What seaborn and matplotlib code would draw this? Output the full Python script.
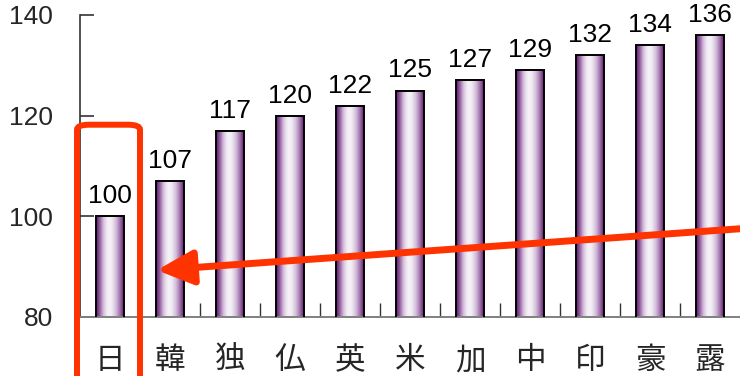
import numpy as np
import pandas as pd
import matplotlib
matplotlib.use("Agg")
import matplotlib.pyplot as plt
import seaborn as sns
from matplotlib.colors import LinearSegmentedColormap
from matplotlib.patches import FancyBboxPatch, FancyArrowPatch

countries = ["日", "韓", "独", "仏", "英", "米", "加", "中", "印", "豪", "露"]
values = [100, 107, 117, 120, 122, 125, 127, 129, 132, 134, 136]
y_ticks = [80, 100, 120, 140]

sns.set_theme(style="white")
plt.rcParams["font.family"] = ["Liberation Sans", "Noto Sans CJK JP", "DejaVu Sans"]

df = pd.DataFrame({"country": countries, "value": values})

fig = plt.figure(figsize=(7.4, 3.76), dpi=100)
ax = fig.add_axes([80 / 740, 1 - 317 / 376, 660 / 740, 302 / 376])

sns.barplot(data=df, x="country", y="value", ax=ax, width=0.46,
            color="white", edgecolor="black", linewidth=1.4, zorder=3)

y_min, y_max = y_ticks[0], y_ticks[-1]
ax.set_ylim(y_min, y_max)
ax.set_xlim(-0.5, len(countries) - 0.5)

# cylinder-like horizontal gradient inside each bar
grad_cmap = LinearSegmentedColormap.from_list("cyl", [
    (0.00, "#5a1468"), (0.12, "#8e559c"), (0.28, "#d9c6de"),
    (0.42, "#f6f2f7"), (0.55, "#f3eef5"), (0.72, "#d2bdd8"),
    (0.88, "#9a66a6"), (1.00, "#5f1a6d")])
grad = np.linspace(0, 1, 256).reshape(1, -1)
for patch, val in zip(ax.patches, values):
    x0, w = patch.get_x(), patch.get_width()
    top = patch.get_y() + patch.get_height()
    ax.imshow(grad, cmap=grad_cmap, aspect="auto",
              extent=[x0, x0 + w, y_min, top], zorder=2.5,
              interpolation="bicubic")
    patch.set_facecolor("none")
    ax.text(x0 + w / 2, top + 2.6, f"{val}",
            ha="center", va="baseline", fontsize=19, color="black", zorder=5,
            clip_on=False)
ax.set_xlim(-0.5, len(countries) - 0.5)
ax.set_ylim(y_min, y_max)

# axes styling
ax.set_xlabel("")
ax.set_ylabel("")
ax.set_yticks(y_ticks)
ax.set_yticklabels([str(v) for v in y_ticks], fontsize=19)
ax.tick_params(axis="y", direction="in", length=10, width=1.2,
               color="#333333", pad=19.5, left=True)
ax.set_xticks(range(len(countries)))
ax.set_xticklabels(countries, fontsize=22)
ax.tick_params(axis="x", which="major", length=0, pad=21)
ax.set_xticks(np.arange(0.5, len(countries) - 0.5, 1), minor=True)
ax.tick_params(axis="x", which="minor", direction="in", length=10,
               width=1.0, color="#333333", bottom=True)
for side in ("top", "right"):
    ax.spines[side].set_visible(False)
ax.spines["left"].set_color("#333333")
ax.spines["left"].set_linewidth(1.2)
ax.spines["bottom"].set_color("#808080")
ax.spines["bottom"].set_linewidth(1.4)
ax.grid(False)

red = "#ff3300"
# highlight box around Japan
box = FancyBboxPatch((-0.55, 60), 1.05, 58.2,
                     boxstyle="round,pad=0,rounding_size=0.2",
                     transform=ax.transData, fill=False, edgecolor=red,
                     linewidth=4.3, clip_on=False, zorder=6,
                     mutation_aspect=5)
ax.add_patch(box)

# arrow pointing back toward Japan
arrow = FancyArrowPatch((10.7, 97.7), (0.78, 89.3),
                        arrowstyle="-|>,head_length=22,head_width=10.5",
                        mutation_scale=1, color=red, linewidth=5,
                        clip_on=False, zorder=6, shrinkA=0, shrinkB=0)
ax.add_patch(arrow)

fig.savefig("out.png", dpi=100)
